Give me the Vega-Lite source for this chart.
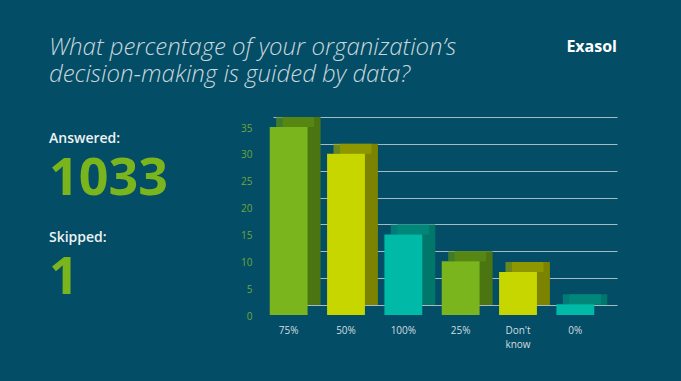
{
  "$schema": "https://vega.github.io/schema/vega-lite/v6.json",
  "background": "#034E66",
  "padding": {"left": 49, "top": 36, "right": 64, "bottom": 33},
  "bounds": "flush",
  "spacing": 20,
  "config": {"view": {"stroke": null}, "font": "Open Sans"},
  "datasets": {
    "stats": [
      {"k": "Answered:", "v": "1033"},
      {"k": "Skipped:", "v": "1"}
    ],
    "bars": [
      {"cat": "75%", "val": 35},
      {"cat": "50%", "val": 30},
      {"cat": "100%", "val": 15},
      {"cat": "25%", "val": 10},
      {"cat": "Don't know", "val": 8},
      {"cat": "0%", "val": 2}
    ]
  },
  "hconcat": [
    {
      "width": 204,
      "height": 198,
      "data": {"name": "stats"},
      "title": {
        "text": ["What percentage of your organization’s", "decision-making is guided by data?"],
        "anchor": "start",
        "fontSize": 24,
        "fontStyle": "italic",
        "fontWeight": 300,
        "font": "Open Sans",
        "color": "#C9D6DC",
        "lineHeight": 27,
        "offset": 30
      },
      "encoding": {
        "y": {"field": "k", "type": "nominal", "sort": null, "axis": null},
        "x": {"value": 0}
      },
      "layer": [
        {
          "mark": {"type": "text", "align": "left", "baseline": "alphabetic", "yOffset": -23.5, "fontSize": 14, "fontWeight": 600, "color": "#EEF2F4", "font": "Open Sans"},
          "encoding": {"text": {"field": "k"}}
        },
        {
          "mark": {"type": "text", "align": "left", "baseline": "alphabetic", "yOffset": 28, "fontSize": 52, "fontWeight": "bold", "color": "#7AB51D", "font": "Open Sans"},
          "encoding": {"text": {"field": "v"}}
        }
      ]
    },
    {
      "width": 344,
      "height": 188,
      "data": {"name": "bars"},
      "title": {
        "text": "Exasol",
        "anchor": "end",
        "fontSize": 16,
        "fontWeight": "bold",
        "font": "Open Sans",
        "color": "#FFFFFF",
        "offset": 62
      },
      "encoding": {
        "x": {
          "field": "cat", "type": "nominal", "sort": null,
          "scale": {"paddingInner": 0.34, "paddingOuter": 0.17},
          "axis": {
            "title": null, "domain": false, "ticks": false, "grid": false,
            "labelAngle": 0, "labelFontSize": 10, "labelColor": "#D3DCE0",
            "labelFont": "Open Sans", "labelOffset": -13, "labelPadding": 20,
            "labelLineHeight": 14, "labelBaseline": "top",
            "labelExpr": "datum.label == \"Don't know\" ? [\"Don't\", \"know\"] : datum.label"
          }
        },
        "y": {
          "field": "val", "type": "quantitative",
          "scale": {"domain": [0, 35], "nice": false},
          "axis": {
            "title": null, "domain": false, "ticks": false,
            "values": [0, 5, 10, 15, 20, 25, 30, 35],
            "grid": true, "gridColor": "#A7B9C1", "gridWidth": 1,
            "labelFontSize": 10, "labelColor": "#6FA73A", "labelFont": "Open Sans",
            "labelOffset": 11, "labelPadding": 21
          }
        }
      },
      "layer": [
        {
          "mark": {"type": "bar"},
          "encoding": {
            "color": {
              "field": "cat", "type": "nominal", "legend": null,
              "scale": {"domain": ["75%", "50%", "100%", "25%", "Don't know", "0%"],
                        "range": ["#4A7510", "#7C8300", "#00776A", "#4A7510", "#7C8300", "#00776A"]}
            }
          }
        },
        {
          "mark": {"type": "tick", "thickness": 10, "size": 38, "xOffset": -6.5, "yOffset": 5},
          "encoding": {
            "color": {
              "field": "cat", "type": "nominal", "legend": null,
              "scale": {"domain": ["75%", "50%", "100%", "25%", "Don't know", "0%"],
                        "range": ["#5B8F14", "#97A000", "#008F80", "#5B8F14", "#97A000", "#008F80"]}
            }
          }
        },
        {
          "mark": {"type": "bar", "xOffset": -13, "x2Offset": -13, "yOffset": 10, "y2Offset": 10},
          "encoding": {
            "color": {
              "field": "cat", "type": "nominal", "legend": null,
              "scale": {"domain": ["75%", "50%", "100%", "25%", "Don't know", "0%"],
                        "range": ["#7AB51D", "#C8D600", "#00BAA7", "#7AB51D", "#C8D600", "#00BAA7"]}
            }
          }
        }
      ],
      "resolve": {"scale": {"color": "independent"}}
    }
  ]
}
